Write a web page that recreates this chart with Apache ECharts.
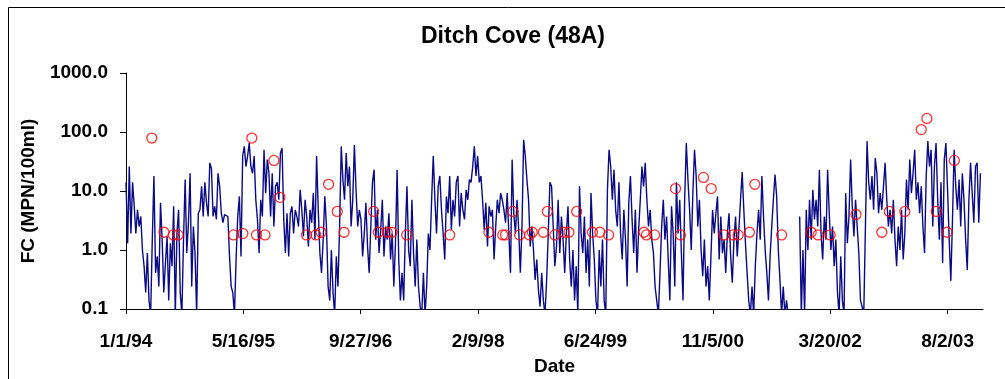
<!DOCTYPE html>
<html><head><meta charset="utf-8">
<script src="https://cdn.jsdelivr.net/npm/echarts@6/dist/echarts.min.js"></script>
<style>html,body{margin:0;padding:0;background:#fff}#c{width:1005px;height:379px}</style>
</head><body><div id="c"></div>
<script>
const titleText = 'Ditch Cove (48A)';
const xAxisName = 'Date';
const yAxisName = 'FC (MPN/100ml)';
const baseDateUTC = Date.UTC(1994, 0, 1);   // day 0 = 1/1/94
const lineStepDays = 7;
// modelled FC (MPN/100ml), one value per week from 1/1/94 (null = no plottable value)
const lineValues = [
14,1.3,26,1.9,14,5.5,1.9,4.8,2.5,3.7,
1.0,0.53,0.19,0.89,0.14,0.08,1.5,18,0.41,0.78,
0.24,6.3,1.5,0.19,0.6,1.7,0.14,1.3,0.53,5.5,
0.08,1.9,4.8,0.19,0.08,1.5,15.6,0.89,2.9,20,
0.24,2.5,0.89,0.08,4.2,4.8,12,3.7,14,6.3,
3.7,30,24,3.7,5.5,3.3,20,12,4.2,2.9,
4.0,4.2,3.7,0.78,0.24,0.19,0.08,0.69,3.7,8.1,
0.78,39,57,26,39,65,26,20,39,7.1,
3.3,0.89,7.1,3.7,50,9.2,34,20,3.7,20,
2.5,12,14,7.1,44,53,3.3,0.89,4.2,0.78,
4.2,5.5,1.9,4.8,3.7,
2.5,10.5,4.8,1.7,7.1,3.7,1.15,4.8,2.9,9.2,
1.5,39,4.8,0.89,0.41,1.5,8.1,2.5,0.24,0.14,
1.0,0.19,0.08,0.78,0.24,2.5,57,15.6,7.1,44,
12,26,2.5,7.1,60,10.5,2.5,4.8,3.3,0.78,
1.9,6.3,1.15,0.41,2.5,14,23,1.5,4.8,0.89,
2.2,7.1,0.78,2.5,1.5,4.2,0.69,1.9,0.24,1.3,
23,0.69,0.14,0.41,0.14,1.9,12,1.0,0.53,7.1,
0.89,0.24,1.5,0.24,0.11,0.08,0.41,0.08,0.24,1.9,
1.0,7.1,39,7.1,1.9,12,18,4.8,1.9,0.69,
8.1,4.2,18,2.2,7.1,3.7,14,18,2.5,9.2,
4.8,3.3,10.5,7.1,15.6,
14,26,57,18,39,14,18,7.1,2.2,6.3,
1.15,5.5,3.7,4.8,0.69,2.5,7.1,4.2,9.2,7.1,
4.8,2.9,9.2,1.9,0.41,34,4.2,1.9,7.1,2.2,
0.41,2.5,74,39,15.6,7.1,1.15,2.5,1.0,0.31,
0.69,0.21,0.11,0.41,0.14,0.08,0.31,1.9,14,12,
2.5,0.53,1.15,7.1,0.89,3.7,1.5,0.41,1.9,5.5,
0.69,0.24,1.0,0.14,0.53,0.08,12,1.9,0.89,3.7,
0.41,1.5,0.24,9.2,1.9,0.69,0.14,0.08,1.0,0.24,
1.5,0.14,0.08,10.5,50,26,7.1,23,4.8,2.5,
14,1.9,0.69,4.8,1.5,0.24,6.3,18,3.3,0.89,
4.8,0.41,2.2,7.1,26,12,
30,7.1,2.5,4.8,1.5,0.89,0.24,0.14,0.08,0.41,
2.5,7.1,1.5,3.7,0.69,0.14,5.5,1.9,0.24,14,
1.9,7.1,0.89,0.14,7.1,65,15.6,4.8,1.0,9.2,
50,18,2.5,7.1,1.0,0.36,1.5,0.24,0.53,0.14,
0.78,4.8,1.9,4.2,8.1,0.69,3.7,0.89,1.5,0.41,
1.9,4.2,0.78,0.28,1.5,3.7,0.78,2.2,7.1,21,
4.8,1.3,0.41,0.14,0.08,0.24,0.08,0.53,1.9,4.8,
1.5,18,3.7,1.0,0.41,0.14,0.78,2.5,7.1,19,
8.1,1.0,0.31,0.08,0.24,0.08,0.14,0.08,null,null,
null,null,null,null,3.7,0.08,1.0,0.08,4.8,1.0,
7.1,1.5,10.5,3.3,7.1,
2.5,23,1.9,0.69,3.7,1.5,23,4.2,1.0,2.5,
0.53,1.5,0.19,0.08,0.78,0.14,0.08,9.2,1.3,3.7,
34,5.5,1.7,7.1,2.5,0.89,0.14,0.11,0.08,0.08,
70,14,7.1,18,4.8,36,20,4.2,9.2,4.8,
12,30,7.1,2.5,4.8,1.9,7.1,1.5,0.53,2.5,
1.0,4.8,0.69,1.9,15.6,4.8,34,9.2,20,50,
7.1,14,4.2,12,2.5,0.89,18,70,26,50,
2.5,26,65,7.1,1.5,14,0.6,34,65,10.5,
1.5,0.3,3.3,50,12,4.8,15.6,2.5,20,7.1,
1.5,0.46,7.1,30,9.2,2.9,26,30,2.9,20
];
// observed samples: day since 1/1/94 and FC value
const obsDays = [110,162,202,222,458,498,536,556,592,630,656,769,809,831,863,900,929,1055,1075,1113,1133,1196,1379,1546,1605,1617,1648,1677,1719,1731,1778,1795,1827,1866,1887,1920,1987,2019,2056,2207,2217,2252,2341,2362,2460,2493,2547,2586,2608,2656,2679,2793,2919,2948,3000,3110,3220,3252,3318,3388,3412,3452,3498,3529];
const obsValues = [79,2.0,1.8,1.8,1.8,1.9,79,1.8,1.8,33,7.8,1.8,1.8,2.0,13,4.5,2.0,4.5,2.0,2.0,2.0,1.8,1.8,2.0,1.8,1.8,4.5,1.8,1.8,2.0,2.0,4.5,1.8,2.0,2.0,4.5,2.0,2.0,1.8,2.0,1.8,1.8,11,1.8,17,11,1.8,1.8,1.8,2.0,13,1.8,2.0,1.8,1.8,4.0,2.0,4.5,4.5,110,170,4.5,2.0,33];
const xTickDays = [0,500,1000,1500,2000,2500,3000,3500];
const xMaxDay = 3651;   // 12/31/03
const yMin = 0.1, yMax = 1000;

function fmtDate(d) {
  const dt = new Date(baseDateUTC + d * 86400000);
  return (dt.getUTCMonth() + 1) + '/' + dt.getUTCDate() + '/' + String(dt.getUTCFullYear()).slice(2);
}
const FONT = "'Liberation Sans', Arial, sans-serif";
const chart = echarts.init(document.getElementById('c'), null, {renderer: 'canvas'});
chart.setOption({
  animation: false,
  backgroundColor: '#fff',
  title: {text: titleText, left: 416, top: 20,
    textStyle: {fontFamily: FONT, fontWeight: 'bold', fontSize: 23, color: '#000'}},
  grid: {left: 126, top: 73, width: 857, height: 236, containLabel: false, outerBoundsMode: 'none'},
  xAxis: {
    type: 'value', min: 0, max: xMaxDay,
    name: xAxisName, nameLocation: 'middle', nameGap: 48,
    nameTextStyle: {fontFamily: FONT, fontWeight: 'bold', fontSize: 19, color: '#000'},
    axisLine: {show: true, onZero: false, lineStyle: {color: '#000', width: 1}},
    axisTick: {show: true, customValues: xTickDays, length: 5, lineStyle: {color: '#000'}},
    axisLabel: {customValues: xTickDays, formatter: fmtDate, margin: 23,
      fontFamily: FONT, fontWeight: 'bold', fontSize: 19, color: '#000'},
    splitLine: {show: false}
  },
  yAxis: {
    type: 'log', logBase: 10, min: yMin, max: yMax,
    name: yAxisName, nameLocation: 'middle', nameGap: 88,
    nameTextStyle: {fontFamily: FONT, fontWeight: 'bold', fontSize: 19, color: '#000'},
    axisLine: {show: true, lineStyle: {color: '#000', width: 1}},
    axisTick: {show: true, length: 6, lineStyle: {color: '#000'}},
    minorTick: {show: false},
    axisLabel: {formatter: v => Number(v).toFixed(1), margin: 18,
      fontFamily: FONT, fontWeight: 'bold', fontSize: 19, color: '#000'},
    splitLine: {show: false}
  },
  series: [
    {type: 'line', data: lineValues.map((v, i) => [i * lineStepDays, v == null ? '-' : v]),
      symbol: 'none', showSymbol: false, connectNulls: false,
      lineStyle: {color: '#0a0a86', width: 1.4}, z: 2},
    {type: 'scatter', data: obsDays.map((d, i) => [d, obsValues[i]]),
      symbol: 'circle', symbolSize: 10,
      itemStyle: {color: 'rgba(0,0,0,0)', borderColor: '#ff0000', borderWidth: 1.3}, z: 3}
  ],
  graphic: [{type: 'rect', silent: true, shape: {x: 8.5, y: 7.5, width: 1200, height: 500},
    style: {fill: 'none', stroke: '#000', lineWidth: 1}}]
});
</script></body></html>
